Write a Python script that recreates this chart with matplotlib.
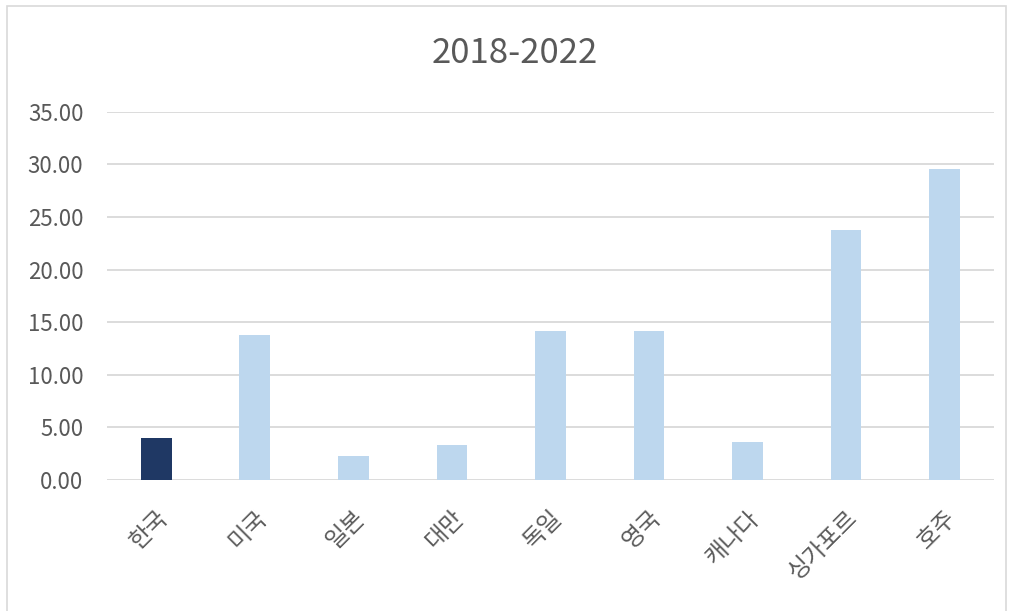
import matplotlib
matplotlib.use("Agg")
import matplotlib.pyplot as plt
from matplotlib.patches import Rectangle

plt.rcParams['font.family'] = ['Noto Sans CJK KR', 'DejaVu Sans']

# data
countries = ['한국', '미국', '일본', '대만', '독일', '영국', '캐나다', '싱가포르', '호주']
values = [3.95, 13.75, 2.28, 3.33, 14.12, 14.18, 3.6, 23.75, 29.55]
title = '2018-2022'
yticks = [0, 5, 10, 15, 20, 25, 30, 35]

dark = '#1F3864'
light = '#BDD7EE'
txt = '#595959'

fig = plt.figure(figsize=(10.14, 6.11), dpi=100)
ax = fig.add_axes([0.1055, 0.2144, 0.8745, 0.6027])

colors = [dark if c == '한국' else light for c in countries]
x = list(range(len(countries)))
ax.bar(x, values, width=0.31, color=colors, zorder=3)

ax.set_xlim(-0.5, len(countries) - 0.5)
ax.set_ylim(0, 35)
ax.set_yticks(yticks)
ax.set_yticklabels([f'{v:.2f}' for v in yticks], fontsize=16, color=txt)
ax.set_xticks(x)
ax.set_xticklabels(countries, fontsize=17, color=txt, rotation=45,
                   ha='right', va='top', rotation_mode='anchor',
                   fontweight='light')
ax.tick_params(axis='both', length=0)
ax.tick_params(axis='y', pad=17)
ax.tick_params(axis='x', pad=19)

ax.grid(axis='y', color='#D9D9D9', linewidth=1.3, zorder=0)
for s in ax.spines.values():
    s.set_visible(False)

fig.text(0.508, 0.913, title, ha='center', va='center', fontsize=25, color=txt)

# outer chart border
fig.patches.append(Rectangle((0.007, -0.01), 0.985, 1.0, transform=fig.transFigure,
                             fill=False, edgecolor='#D9D9D9', linewidth=1.2))

fig.savefig('out.png', dpi=100)
